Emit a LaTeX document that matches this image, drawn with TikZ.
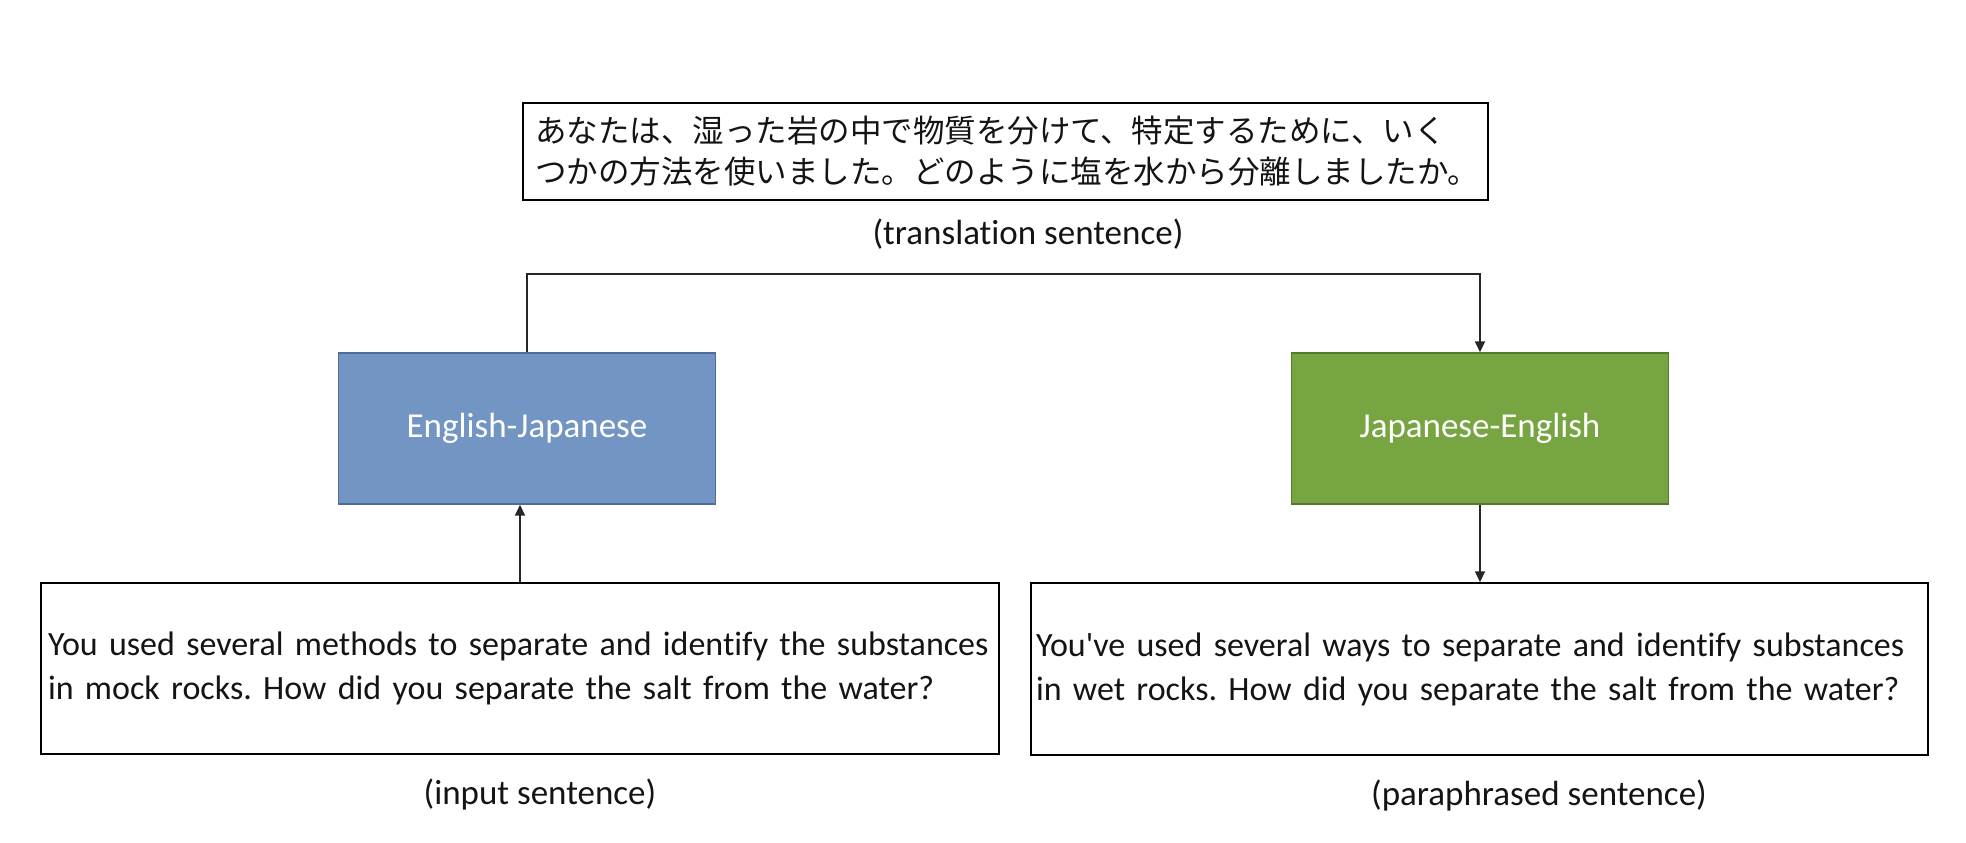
\documentclass[tikz,border=0pt]{standalone}
\usepackage{fontspec}
\setmainfont{Carlito}[Ligatures={NoCommon,NoRequired,NoContextual}]
\newfontfamily\jpfont{Noto Sans CJK JP}
\usetikzlibrary{arrows.meta}
\definecolor{ejblue}{RGB}{115,149,196}
\definecolor{ejblueline}{RGB}{80,108,152}
\definecolor{jegreen}{RGB}{119,165,65}
\definecolor{jegreenline}{RGB}{84,122,45}
\definecolor{txt}{RGB}{20,20,20}
\frenchspacing
\hbadness=10000 \hfuzz=100pt
\begin{document}
\begin{tikzpicture}[x=1pt,y=-1pt,
  textbox/.style={draw=black, line width=1.8pt, inner ysep=0pt, align=left, anchor=center, text=txt},
  langbox/.style={line width=1.4pt, minimum width=377pt, minimum height=151pt, inner sep=0pt, text=white, font=\fontsize{35}{42}\selectfont, anchor=center},
  caption/.style={font=\fontsize{35}{42}\selectfont, text=txt, inner sep=0pt, anchor=center},
  conn/.style={line width=1.6pt, draw=black!85},
  tip/.style={-{Triangle[length=11pt,width=10pt]}}
]
\useasboundingbox (0,0) rectangle (1966,843);

% top Japanese box
\node[textbox, minimum width=965pt, minimum height=97pt, text width=941pt, inner xsep=12pt,
      font=\jpfont\fontsize{31.5}{41}\selectfont] (jp) at (1005.5,151.5)
  {\mbox{あなたは、湿った岩の中で物質を分けて、特定するために、いく}\\\mbox{つかの方法を使いました。どのように塩を水から分離しましたか。}};
\node[caption] (cap1) at (1028,234) {(translation sentence)};

% language boxes
\node[langbox, fill=ejblue, draw=ejblueline] (ej) at (527,428.5) {English-Japanese};
\node[langbox, fill=jegreen, draw=jegreenline] (je) at (1480,428.5) {Japanese-English};

% bottom boxes
\node[textbox, minimum width=958pt, minimum height=171pt, text width=944pt, inner xsep=7pt,
      font=\fontsize{34}{44}\selectfont] (in) at (520,668.5)
  {\mbox{You used several methods to separate and identify the substances}\\\mbox{in mock rocks. How did you separate the salt from the water?}};
\node[textbox, line width=1.5pt, minimum width=897pt, minimum height=172pt, text width=887pt, inner xsep=5pt,
      font=\fontsize{34}{44}\selectfont] (out) at (1479.5,669)
  {\mbox{You\textquotesingle ve used several ways to separate and identify substances}\\\mbox{in wet rocks. How did you separate the salt from the water?}};

\node[caption] (cap2) at (540,795) {(input sentence)};
\node[caption] (cap3) at (1539,796) {(paraphrased sentence)};

% connectors
\coordinate (bend) at (527,274);
\draw[conn, tip] (ej.north) -- (bend) -| (je.north);
\draw[conn, tip] (in.north) -- (in.north |- ej.south);
\draw[conn, tip] (je.south) -- (out.north -| je.south);
\end{tikzpicture}
\end{document}
